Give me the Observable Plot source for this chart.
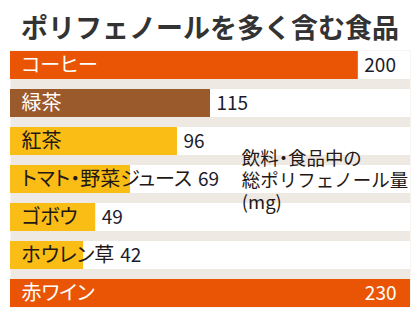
<!DOCTYPE html>
<html><head><meta charset="utf-8">
<script src="https://cdn.jsdelivr.net/npm/d3@7"></script>
<script src="https://cdn.jsdelivr.net/npm/@observablehq/plot@0.6"></script>
<style>
html,body{margin:0;padding:0;background:#fff;}
body{width:420px;height:317px;overflow:hidden;font-family:"Noto Sans CJK JP","Noto Sans",sans-serif;}
#title{height:50px;line-height:53px;text-align:center;font-size:27px;font-weight:bold;color:#333;white-space:nowrap;}
#measure{position:absolute;visibility:hidden;white-space:nowrap;font-size:20px;font-feature-settings:"palt" 1;font-family:"Noto Sans CJK JP",sans-serif;}
</style>
</head><body>
<div id="title">ポリフェノールを多く含む食品</div>
<div id="chart"></div>
<span id="measure"></span>
<script>
const foods = ["コーヒー","緑茶","紅茶","トマト・野菜ジュース","ゴボウ","ホウレン草","赤ワイン"];
const polyphenol = [200,115,96,69,49,42,230];
const barColors = ["#e95504","#9b5a2b","#f9bd16","#f9bd16","#f9bd16","#f9bd16","#e95504"];
const labelColors = ["#ffffff","#ffffff","#231815","#231815","#231815","#231815","#ffffff"];
const unitLines = ["飲料・食品中の","総ポリフェノール量","(mg)"];

const W = 420, H = 267, mL = 10, mR = 10;
const xMax = d3.max(polyphenol);
const k = (W - mL - mR) / xMax;
const labelDx = 11, gap = 6;
const meas = document.getElementById("measure");

const data = foods.map((name, i) => {
  meas.textContent = name;
  const wpx = meas.getBoundingClientRect().width;
  const labelEnd = (labelDx + wpx) / k;
  return {
    name, value: polyphenol[i], fill: barColors[i], labelFill: labelColors[i],
    inside: polyphenol[i] === xMax,
    vx: Math.max(polyphenol[i], labelEnd)
  };
});

const chart = Plot.plot({
  width: W, height: H,
  marginLeft: mL, marginRight: mR, marginTop: 0, marginBottom: 10,
  x: {domain: [0, xMax], axis: null},
  y: {domain: foods, axis: null, paddingInner: 0.27, paddingOuter: 0},
  color: {type: "identity"},
  style: {fontFamily: '"Noto Sans CJK JP", sans-serif', background: "transparent"},
  marks: [
    Plot.frame({fill: "#efe9e4", stroke: "none"}),
    Plot.barX(data, {x1: 0, x2: xMax, y: "name", fill: "#ffffff"}),
    Plot.barX(data, {x: "value", y: "name", fill: "fill"}),
    Plot.text(data, {x: 0, y: "name", text: "name", fill: "labelFill", textAnchor: "start", dx: labelDx, fontSize: 20}),
    Plot.text(data.filter(d => !d.inside), {x: "vx", y: "name", text: d => String(d.value), fill: "#1c1c2c", textAnchor: "start", dx: gap, fontSize: 19}),
    Plot.text(data.filter(d => d.inside), {x: "value", y: "name", text: d => String(d.value), fill: "#ffffff", textAnchor: "end", dx: -14, fontSize: 19}),
    Plot.text([unitLines.join("\n")], {x: 133, y: [foods[3]], text: d => d, fill: "#231815", textAnchor: "start", lineAnchor: "middle", lineHeight: 1.19, fontSize: 18.5})
  ]
});
d3.select(chart).selectAll("text, tspan")
  .filter(function() { return foods.includes(this.textContent) || this.textContent === unitLines[0]; })
  .style("font-feature-settings", '"palt" 1');
document.getElementById("chart").appendChild(chart);
</script>
</body></html>
